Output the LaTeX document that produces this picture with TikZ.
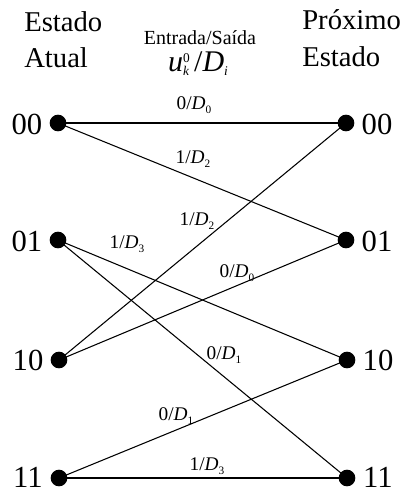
\documentclass[tikz,border=0pt]{standalone}
\usepackage{amsmath}
\usepackage{fontspec}
\setmainfont{Liberation Serif}
\newcommand{\smallsub}[1]{\raisebox{-3.2pt}{\fontsize{8.5}{10}\selectfont #1}}
\begin{document}
\begin{tikzpicture}[x=0.75pt,y=-0.75pt,
  st/.style={circle,fill=black,inner sep=0pt,minimum size=12.5pt},
  row/.style={font=\fontsize{23}{27}\selectfont,inner sep=0pt},
  hdr/.style={font=\fontsize{21.5}{25}\selectfont,inner sep=0pt,anchor=base west},
  lbl/.style={font=\fontsize{14.5}{17}\selectfont,inner sep=0pt},
  edge/.style={line width=0.8pt}]
\useasboundingbox (0,0) rectangle (408,492);
% headers
\node[hdr] (h1) at (24,32) {Estado};
\node[hdr] (h2) at (24,68) {Atual};
\node[hdr] (h3) at (302,30) {Próximo};
\node[hdr] (h4) at (302,66) {Estado};
\node[font=\fontsize{15}{17}\selectfont,inner sep=0pt,anchor=base] (io) at (200,45) {Entrada/Saída};
\node[font=\fontsize{22.5}{26}\selectfont,inner sep=0pt,anchor=base] (uk) at (198,71)
  {\textit{u}\rlap{\raisebox{6pt}{\fontsize{10}{12}\selectfont 0}}\raisebox{-3pt}{\fontsize{10}{12}\selectfont\textit{k}}\,/\textit{D}\raisebox{-3pt}{\fontsize{10}{12}\selectfont\textit{i}}};
% states
\node[st] (L0) at (58,123) {};
\node[st] (L1) at (58,240) {};
\node[st] (L2) at (59,360) {};
\node[st] (L3) at (59,478) {};
\node[st] (R0) at (346,123) {};
\node[st] (R1) at (346,240) {};
\node[st] (R2) at (347,360) {};
\node[st] (R3) at (347,478) {};
% state labels
\node[row] (tL0) at (27,124) {00};
\node[row] (tL1) at (27,241) {01};
\node[row] (tL2) at (28,360) {10};
\node[row] (tL3) at (28,477) {11};
\node[row] (tR0) at (377,124) {00};
\node[row] (tR1) at (377,241) {01};
\node[row] (tR2) at (378,360) {10};
\node[row] (tR3) at (378,477) {11};
% transitions
\draw[edge] (L0.center) -- (R0.center);
\draw[edge] (L0.center) -- (R1.center);
\draw[edge] (L1.center) -- (R2.center);
\draw[edge] (L1.center) -- (R3.center);
\draw[edge] (L2.center) -- (R0.center);
\draw[edge] (L2.center) -- (R1.center);
\draw[edge] (L3.center) -- (R2.center);
\draw[edge] (L3.center) -- (R3.center);
% edge labels
\node[lbl] (e1) at (194,105) {0/\textit{D}\smallsub{0}};
\node[lbl] (e2) at (193,159) {1/\textit{D}\smallsub{2}};
\node[lbl] (e3) at (197,221) {1/\textit{D}\smallsub{2}};
\node[lbl] (e4) at (127,244) {1/\textit{D}\smallsub{3}};
\node[lbl] (e5) at (237,273) {0/\textit{D}\smallsub{0}};
\node[lbl] (e6) at (224,355) {0/\textit{D}\smallsub{1}};
\node[lbl] (e7) at (176,416) {0/\textit{D}\smallsub{1}};
\node[lbl] (e8) at (207,466) {1/\textit{D}\smallsub{3}};
\end{tikzpicture}
\end{document}
